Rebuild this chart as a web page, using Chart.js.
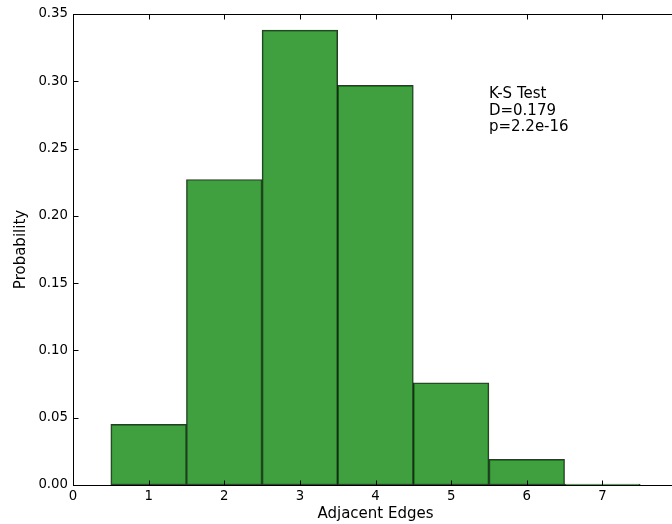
<!DOCTYPE html>
<html>
<head>
<meta charset="utf-8">
<script src="https://cdn.jsdelivr.net/npm/chart.js@4/dist/chart.umd.min.js"></script>
<style>
html,body{margin:0;padding:0;background:#fff;overflow:hidden;width:672px;height:524px;}
canvas{display:block;}
</style>
</head>
<body>
<canvas id="c" width="720" height="524"></canvas>
<script>
const categories = [1, 2, 3, 4, 5, 6, 7];
const probabilities = [0.045, 0.227, 0.338, 0.297, 0.076, 0.019, 0.0006];
const xTicks = [0, 1, 2, 3, 4, 5, 6, 7, 8];
const yTicks = [0, 0.05, 0.10, 0.15, 0.20, 0.25, 0.30, 0.35];
const annotationLines = ['K-S Test', 'D=0.179', 'p=2.2e-16'];
const annotationPos = [5.5, 0.26];

const FONT = '"DejaVu Sans", sans-serif';

const framePlugin = {
  id: 'frame',
  afterDatasetsDraw(chart) {
    const {ctx, chartArea: a, scales: {x, y}} = chart;
    ctx.save();
    ctx.strokeStyle = '#000';
    ctx.lineWidth = 1;
    const L = Math.round(a.left) + 0.5, R = Math.round(a.right) + 0.5;
    const T = Math.round(a.top) + 0.5, B = Math.round(a.bottom) + 0.5;
    ctx.strokeRect(L, T, R - L, B - T);
    const tl = 5;
    ctx.beginPath();
    xTicks.forEach(v => {
      const px = Math.round(x.getPixelForValue(v)) + 0.5;
      ctx.moveTo(px, B); ctx.lineTo(px, B - tl);
      ctx.moveTo(px, T); ctx.lineTo(px, T + tl);
    });
    yTicks.forEach(v => {
      const py = Math.round(y.getPixelForValue(v)) + 0.5;
      ctx.moveTo(L, py); ctx.lineTo(L + tl, py);
      ctx.moveTo(R, py); ctx.lineTo(R - tl, py);
    });
    ctx.stroke();
    // annotation
    ctx.fillStyle = '#000';
    ctx.font = '15px ' + FONT;
    ctx.textAlign = 'left';
    ctx.textBaseline = 'alphabetic';
    const ax = x.getPixelForValue(annotationPos[0]);
    const ay = y.getPixelForValue(annotationPos[1]) - 4;
    const lh = 16.5;
    const n = annotationLines.length;
    annotationLines.forEach((t, i) => {
      ctx.fillText(t, ax, ay - (n - 1 - i) * lh);
    });
    ctx.restore();
  }
};

new Chart(document.getElementById('c'), {
  type: 'bar',
  data: {
    datasets: [{
      data: categories.map((c, i) => ({x: c, y: probabilities[i]})),
      backgroundColor: 'rgba(0,128,0,0.75)',
      borderColor: 'rgba(0,0,0,0.8)',
      borderWidth: 1,
      borderSkipped: false,
      barPercentage: 1,
      categoryPercentage: 1
    }]
  },
  options: {
    responsive: false,
    animation: false,
    layout: {padding: {top: 14, right: 42, left: 0, bottom: 0}},
    plugins: {legend: {display: false}, tooltip: {enabled: false}},
    scales: {
      x: {
        type: 'linear',
        min: 0, max: 8,
        offset: false,
        afterFit: s => { s.height = 39; },
        afterBuildTicks: s => { s.ticks = xTicks.map(v => ({value: v})); },
        grid: {display: false, drawTicks: false},
        border: {display: false},
        ticks: {
          padding: 4,
          color: '#000',
          font: {family: FONT, size: 13.3},
          maxRotation: 0,
          callback: v => String(v)
        },
        title: {
          display: true,
          text: 'Adjacent Edges',
          color: '#000',
          font: {family: FONT, size: 15},
          padding: {top: 0, bottom: 1}
        }
      },
      y: {
        min: 0, max: 0.35,
        afterFit: s => { s.width = 73; },
        afterBuildTicks: s => { s.ticks = yTicks.map(v => ({value: v})); },
        grid: {display: false, drawTicks: false},
        border: {display: false},
        ticks: {
          padding: 5,
          color: '#000',
          font: {family: FONT, size: 13.3},
          callback: v => v.toFixed(2)
        },
        title: {
          display: true,
          text: 'Probability',
          color: '#000',
          font: {family: FONT, size: 15},
          padding: {top: 12, bottom: 0}
        }
      }
    }
  },
  plugins: [framePlugin]
});
</script>
</body>
</html>
